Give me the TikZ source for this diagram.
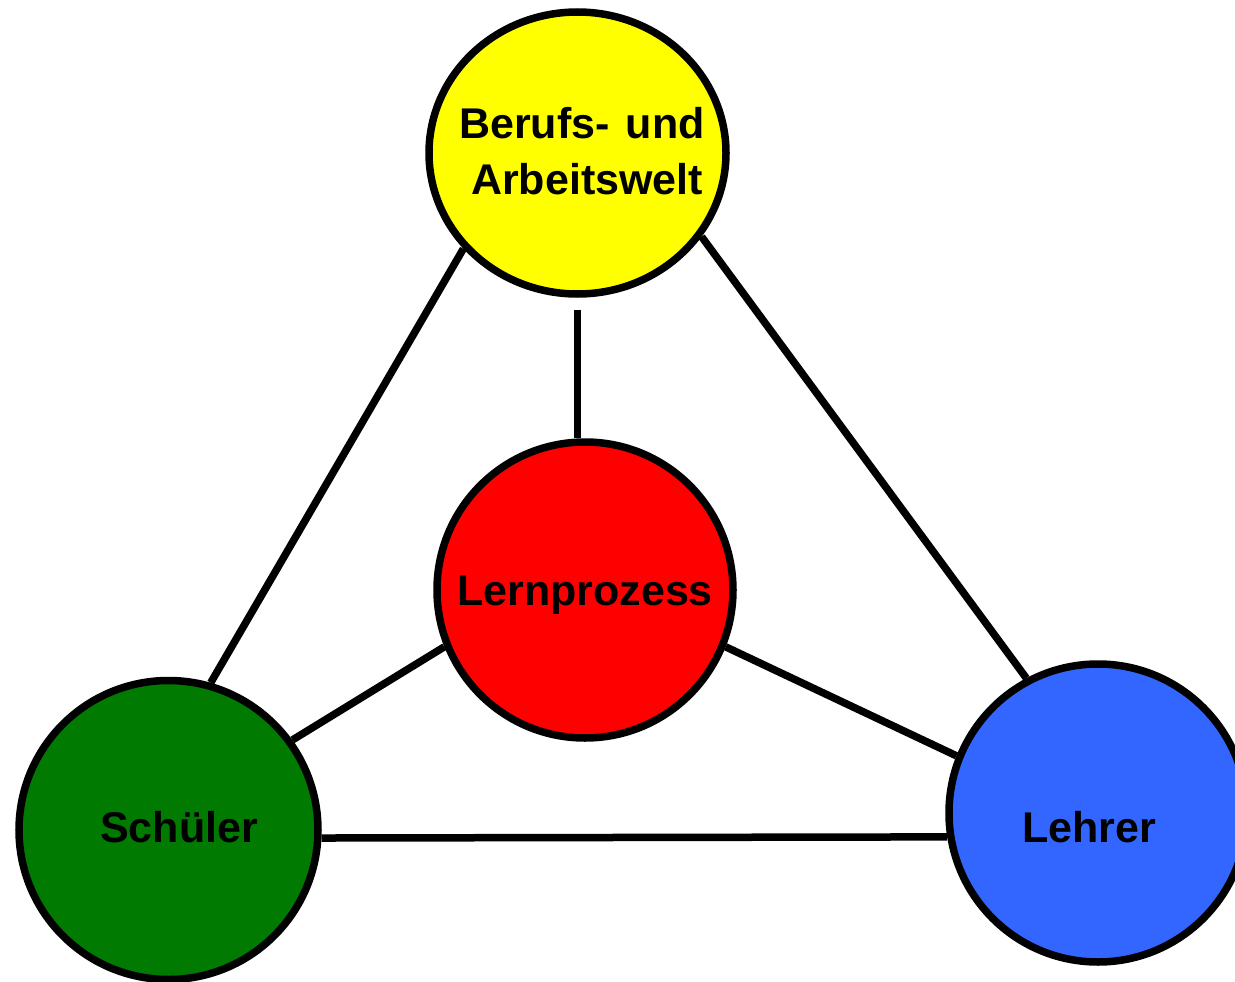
\documentclass[tikz,border=0pt]{standalone}
\usepackage{fontspec}
\setmainfont{Liberation Sans}
\usetikzlibrary{shapes.geometric}
\definecolor{cyellow}{RGB}{255,255,0}
\definecolor{cred}{RGB}{255,0,0}
\definecolor{cgreen}{RGB}{0,122,0}
\definecolor{cblue}{RGB}{51,102,255}
\begin{document}
\begin{tikzpicture}[x=1pt,y=-1pt,
  bubble/.style={circle,draw=black,line width=7.5pt,inner sep=0pt},
  lbl/.style={inner sep=0pt,font=\fontsize{43}{50}\selectfont\bfseries},
  link/.style={draw=black,line width=7.5pt}]
\useasboundingbox (0,0) rectangle (1235,982);
\node[ellipse,draw=black,line width=7.5pt,inner sep=0pt,fill=cyellow,minimum width=297pt,minimum height=282pt] (Y) at (577.5,153) {};
\node[bubble,fill=cred,minimum size=296pt] (R) at (585,590) {};
\node[bubble,fill=cgreen,minimum size=299pt] (G) at (168.5,830) {};
\node[bubble,fill=cblue,minimum size=298pt] (B) at (1098,813) {};
\node[lbl,anchor=base west] (t1) at (459,138) {Berufs-\hspace{0.1em} und};
\node[lbl,anchor=base west] (t2) at (471,194) {Arbeitswelt};
\node[lbl,anchor=base] (tR) at (585,605) {Lernprozess};
\node[lbl,anchor=base] (tG) at (179,842) {Schüler};
\node[lbl,anchor=base] (tB) at (1089,842) {Lehrer};
\coordinate (Ys) at ([yshift=-12pt]Y.south);
\draw[link] (Y.220) -- (G.74);
\draw[link] (Y.326) -- (B.118);
\draw[link] (Ys) -- (Ys |- R.north);
\draw[link] (R.202.5) -- (G.36);
\draw[link] (R.338) -- (B.158.6);
\draw[link] (G.357) -- (B.189.3);
\end{tikzpicture}
\end{document}
